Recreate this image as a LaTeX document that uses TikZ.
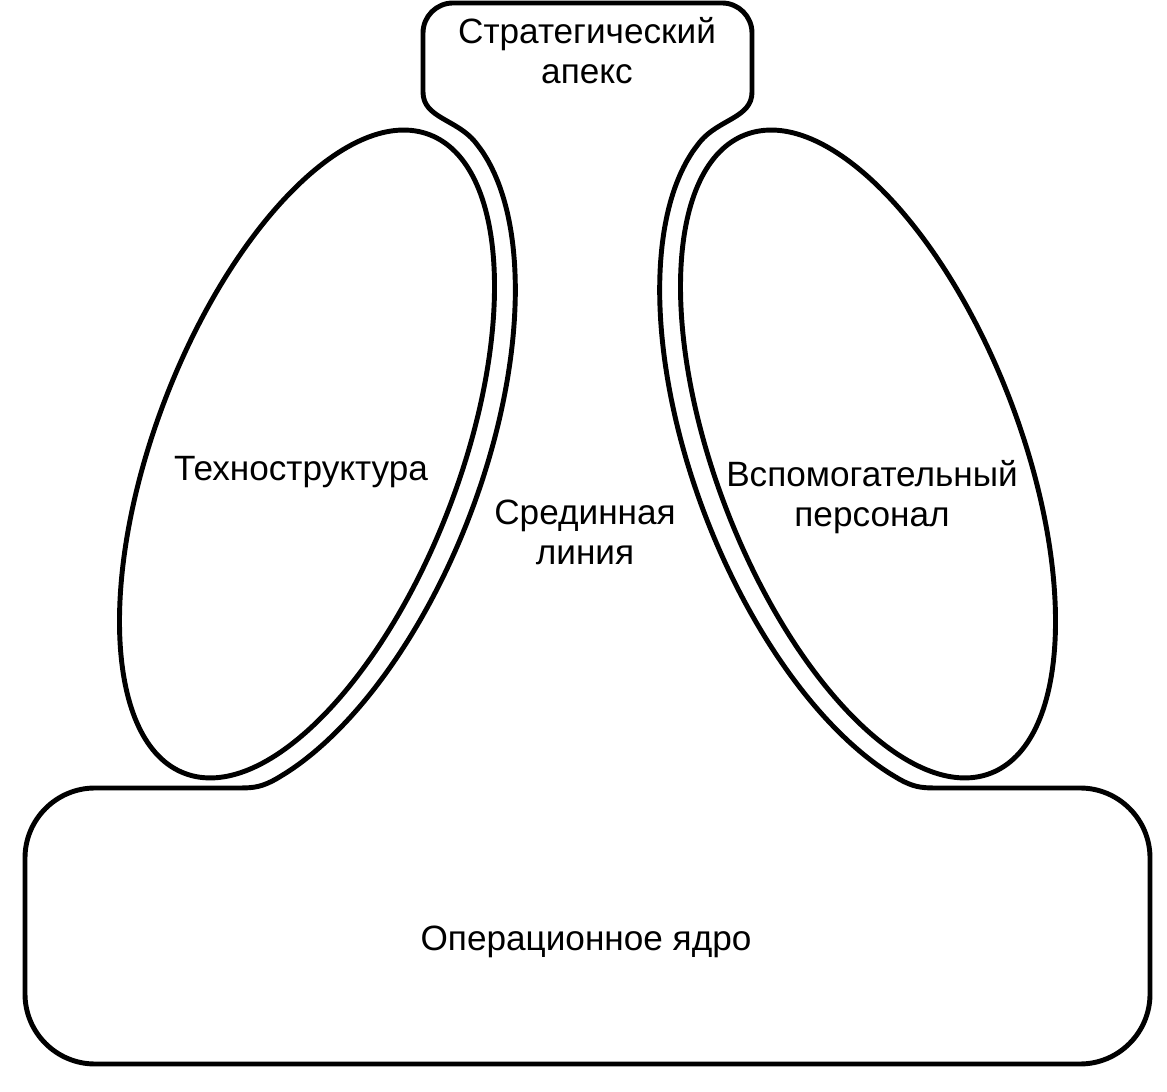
\documentclass[tikz,border=0pt]{standalone}
\usepackage{fontspec}
\setmainfont{Liberation Sans}
\usetikzlibrary{positioning}
\tikzset{
  partline/.style={line width=1.4pt, line join=round},
  partlabel/.style={font=\fontsize{10}{11.4}\selectfont, align=center, inner sep=0pt}
}
\begin{document}
\begin{tikzpicture}[x=0.01cm, y=0.01cm]
  \useasboundingbox (0,0) rectangle (1167,1091);
  % End points of the middle line along the ellipses
  \coordinate (ltop) at ({307 + 364*cos(-15)*0.3584 - 174*sin(-15)*0.9336}, {637 + 364*cos(-15)*0.9336 + 174*sin(-15)*0.3584});
  \coordinate (lbot) at ({307 + 364*cos(-150)*0.3584 - 174*sin(-150)*0.9336}, {637 + 364*cos(-150)*0.9336 + 174*sin(-150)*0.3584});
  \coordinate (rtop) at ({868 - 364*cos(15)*0.3584 - 174*sin(15)*0.9336}, {637 + 364*cos(15)*0.9336 - 174*sin(15)*0.3584});
  \coordinate (rbot) at ({868 - 364*cos(150)*0.3584 - 174*sin(150)*0.9336}, {637 + 364*cos(150)*0.9336 - 174*sin(150)*0.3584});

  % Outline: apex, middle line and operating core
  \draw[partline] (453,1088) -- (722,1088) arc[start angle=90, end angle=0, radius=30]
    -- (752,999) .. controls (752,973) and +(19,23) .. (rtop)
    -- plot[smooth, samples=40, domain=15:150]
       ({868 - 364*cos(\x)*0.3584 - 174*sin(\x)*0.9336}, {637 + 364*cos(\x)*0.9336 - 174*sin(\x)*0.3584})
    -- (rbot) .. controls +(13,-7) and (920,303) .. (935,303)
    -- (1080,303) arc[start angle=90, end angle=0, radius=70]
    -- (1150,97) arc[start angle=0, end angle=-90, radius=70]
    -- (95,27) arc[start angle=270, end angle=180, radius=70]
    -- (25,233) arc[start angle=180, end angle=90, radius=70]
    -- (240,303) .. controls (255,303) and +(-13,-7) .. (lbot)
    -- plot[smooth, samples=40, domain=-150:-15]
       ({307 + 364*cos(\x)*0.3584 - 174*sin(\x)*0.9336}, {637 + 364*cos(\x)*0.9336 + 174*sin(\x)*0.3584})
    -- (ltop) .. controls +(-19,23) and (423,973) .. (423,999)
    -- (423,1058) arc[start angle=180, end angle=90, radius=30] -- cycle;

  % Two side ellipses
  \draw[partline, rotate around={69:(307,637)}] (307,637) ellipse[x radius=342, y radius=152];
  \draw[partline, rotate around={-69:(868,637)}] (868,637) ellipse[x radius=342, y radius=152];

  % Labels
  \node[partlabel] (apex) at (587,1040) {Стратегический\\апекс};
  \node[partlabel] (techno) at (301,619) {Техноструктура};
  \node[partlabel] (middle) at (585,559) {Срединная\\линия};
  \node[partlabel] (support) at (872,594) {Вспомогательный\\персонал};
  \node[partlabel] (core) at (586,149) {Операционное ядро};
\end{tikzpicture}
\end{document}
